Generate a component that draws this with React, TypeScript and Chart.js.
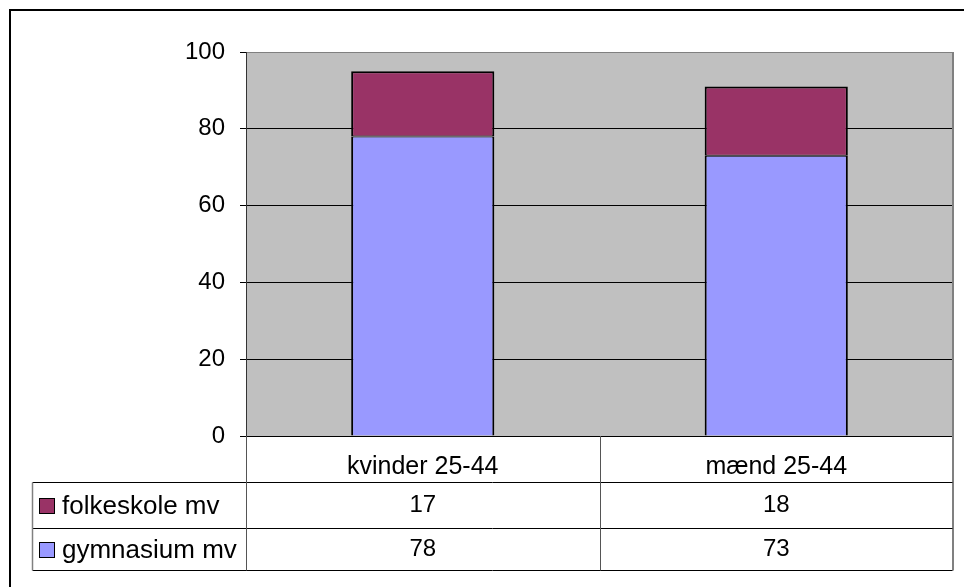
import React, { useEffect, useRef } from "react";
import { Chart, registerables } from "chart.js";

Chart.register(...registerables);

const categories = ["kvinder 25-44", "mænd 25-44"];
const seriesNames = ["folkeskole mv", "gymnasium mv"];
const folkeskole = [17, 18];
const gymnasium = [78, 73];
const yMin = 0;
const yMax = 100;
const yStep = 20;

const FONT = '"Liberation Sans", Arial, Helvetica, sans-serif';
const PURPLE = "#993366";
const BLUE = "#9999FF";
const PLOT_BG = "#C0C0C0";

const tablePlugin = {
  id: "dataTable",
  beforeDraw(chart: any) {
    const { ctx, chartArea: a } = chart;
    ctx.save();
    ctx.fillStyle = PLOT_BG;
    ctx.fillRect(a.left, a.top, a.right - a.left, a.bottom - a.top);
    ctx.restore();
  },
  afterDraw(chart: any) {
    const { ctx, chartArea: a } = chart;
    const xs = chart.scales.x;
    const left = Math.round(a.left) + 0.5;
    const right = Math.round(a.right) - 0.5;
    const top0 = Math.round(a.bottom);
    const rowLines = [482.5, 528.5, 570.5];
    const legendLeft = 32.5;
    const mid = Math.round((xs.getPixelForValue(0) + xs.getPixelForValue(1)) / 2) + 0.5;

    ctx.save();
    // outer chart border
    ctx.strokeStyle = "#000";
    ctx.lineWidth = 2;
    ctx.strokeRect(10, 10, 1100, 1100);

    // plot area right border
    ctx.strokeStyle = "#808080";
    ctx.lineWidth = 2;
    ctx.beginPath();
    ctx.moveTo(right + 0.5, a.top);
    ctx.lineTo(right + 0.5, rowLines[2]);
    ctx.stroke();

    // horizontal table lines
    ctx.strokeStyle = "#000";
    ctx.lineWidth = 1;
    ctx.beginPath();
    for (const y of rowLines) {
      ctx.moveTo(legendLeft, y);
      ctx.lineTo(right, y);
    }
    ctx.stroke();

    // vertical table lines
    ctx.strokeStyle = "#555";
    ctx.beginPath();
    ctx.moveTo(left, top0);
    ctx.lineTo(left, rowLines[2]);
    ctx.moveTo(mid, top0);
    ctx.lineTo(mid, rowLines[2]);
    ctx.stroke();
    ctx.strokeStyle = "#808080";
    ctx.lineWidth = 1.5;
    ctx.beginPath();
    ctx.moveTo(legendLeft, rowLines[0]);
    ctx.lineTo(legendLeft, rowLines[2]);
    ctx.stroke();

    const rows = [
      { name: seriesNames[0], data: folkeskole, color: PURPLE },
      { name: seriesNames[1], data: gymnasium, color: BLUE },
    ];
    ctx.textBaseline = "middle";
    rows.forEach((r, i) => {
      const yTop = rowLines[i];
      const yBot = rowLines[i + 1];
      const cy = (yTop + yBot) / 2;
      // swatch
      ctx.fillStyle = r.color;
      ctx.fillRect(39.5, Math.round(cy) - 7.5, 15, 15);
      ctx.strokeStyle = "#000";
      ctx.lineWidth = 1;
      ctx.strokeRect(39.5, Math.round(cy) - 7.5, 15, 15);
      ctx.fillStyle = "#000";
      ctx.textAlign = "left";
      ctx.font = `26px ${FONT}`;
      ctx.fillText(r.name, 62, cy + 1);
      ctx.textAlign = "center";
      ctx.font = `24px ${FONT}`;
      r.data.forEach((v, j) => {
        ctx.fillText(String(v), xs.getPixelForValue(j), cy);
      });
    });
    ctx.restore();
  },
};

export default function App() {
  const ref = useRef<HTMLCanvasElement | null>(null);

  useEffect(() => {
    if (!ref.current) return;
    const chart = new Chart(ref.current, {
      type: "bar",
      data: {
        labels: categories,
        datasets: [
          {
            label: seriesNames[1],
            data: gymnasium,
            backgroundColor: BLUE,
            borderColor: "#000",
            borderWidth: { top: 1, left: 2, right: 2, bottom: 0 },
            borderSkipped: false,
            barPercentage: 0.405,
            categoryPercentage: 1,
          },
          {
            label: seriesNames[0],
            data: folkeskole,
            backgroundColor: PURPLE,
            borderColor: "#000",
            borderWidth: { top: 2, left: 2, right: 2, bottom: 1 },
            borderSkipped: false,
            barPercentage: 0.405,
            categoryPercentage: 1,
          },
        ],
      },
      options: {
        responsive: false,
        animation: false,
        devicePixelRatio: 1,
        layout: { padding: { left: 0, top: 52, right: 11, bottom: 0 } },
        plugins: {
          legend: { display: false },
          tooltip: { enabled: false },
          title: { display: false },
        },
        scales: {
          x: {
            stacked: true,
            grid: { display: false },
            border: { display: false },
            ticks: {
              color: "#000",
              font: { family: FONT, size: 25 },
              padding: 8,
              maxRotation: 0,
            },
            afterFit: (scale: any) => {
              scale.height = 151;
            },
          },
          y: {
            stacked: true,
            min: yMin,
            max: yMax,
            grid: {
              color: (c: any) => (c.tick && c.tick.value === yMax ? "#808080" : "#000"),
              lineWidth: 1,
              tickLength: 6,
              tickColor: "#000",
            },
            border: { display: true, color: "#333", width: 1 },
            ticks: {
              stepSize: yStep,
              color: "#000",
              font: { family: FONT, size: 24 },
              padding: 15,
            },
            afterFit: (scale: any) => {
              scale.width = 246;
            },
          },
        },
      },
      plugins: [tablePlugin],
    } as any);
    return () => chart.destroy();
  }, []);

  return (
    <div style={{ position: "absolute", left: 0, top: 0, width: 964, height: 587, background: "#fff" }}>
      <canvas ref={ref} width={964} height={587} style={{ display: "block" }} />
    </div>
  );
}
